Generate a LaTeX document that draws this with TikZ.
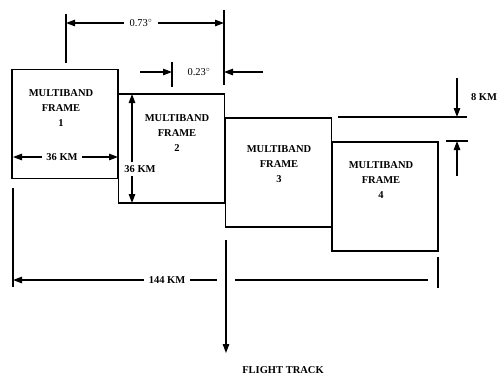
\documentclass[tikz,border=0pt]{standalone}
\usepackage{fontspec}
\setmainfont{Liberation Serif}
\usetikzlibrary{arrows.meta}
\begin{document}
\begin{tikzpicture}[x=1pt,y=-1pt,
  line width=1.2pt,
  frame/.style={draw, minimum width=106pt, minimum height=109pt, inner sep=0pt},
  ftext/.style={align=center, font=\bfseries\fontsize{10.5}{15}\selectfont, inner sep=0pt},
  dimlabel/.style={font=\bfseries\fontsize{10.5}{12}\selectfont, inner sep=4pt},
  anglabel/.style={font=\fontsize{10.5}{12}\selectfont, inner sep=5pt},
  dimarrow/.style={-{Triangle[length=9pt,width=6.5pt]}},
  extline/.style={line width=1.2pt}]
\useasboundingbox (0,0) rectangle (499,376);
% frames
\node[frame] (f1) at (65,124) {};
\node[frame] (f2) at (171.5,148.5) {};
\node[frame] (f3) at (278.5,172.5) {};
\node[frame] (f4) at (385,196.5) {};
\node[ftext] (t1) at (61,108) {MULTIBAND\\FRAME\\1};
\node[ftext] (t2) at (177,133) {MULTIBAND\\FRAME\\2};
\node[ftext] (t3) at (279,164) {MULTIBAND\\FRAME\\3};
\node[ftext] (t4) at (381,180) {MULTIBAND\\FRAME\\4};
% 0.73 deg
\coordinate (e1a) at (66,14); \coordinate (e1b) at (66,63);
\coordinate (e2a) at (224,10); \coordinate (e2b) at (224,85);
\draw[extline] (e1a) -- (e1b);
\draw[extline] (e2a) -- (e2b);
\node[anglabel] (a73) at (141,23) {0.73$^{\circ}$};
\coordinate (a73l) at (66,23); \coordinate (a73r) at (224,23);
\draw[dimarrow] (a73) -- (a73l);
\draw[dimarrow] (a73) -- (a73r);
% 0.23 deg
\coordinate (tk1) at (172,62); \coordinate (tk2) at (172,87);
\draw[extline] (tk1) -- (tk2);
\node[anglabel, inner sep=2pt] (a23) at (199,72) {0.23$^{\circ}$};
\coordinate (a23la) at (140,72); \coordinate (a23lb) at (172,72);
\coordinate (a23ra) at (263,72); \coordinate (a23rb) at (224,72);
\draw[dimarrow] (a23la) -- (a23lb);
\draw[dimarrow] (a23ra) -- (a23rb);
% 36 KM horizontal
\node[dimlabel] (h36) at (62,157) {36 KM};
\coordinate (h36l) at (13,157); \coordinate (h36r) at (118,157);
\draw[dimarrow] (h36) -- (h36l);
\draw[dimarrow] (h36) -- (h36r);
% 36 KM vertical
\node[dimlabel, inner sep=3pt] (v36) at (140,169) {36 KM};
\coordinate (v36t) at (132,94); \coordinate (v36b) at (132,203);
\draw[dimarrow] (v36t |- v36.north) -- (v36t);
\draw[dimarrow] (v36b |- v36.south) -- (v36b);
% 8 KM
\coordinate (k8a) at (338,117); \coordinate (k8b) at (467,117);
\coordinate (k8c) at (446,141); \coordinate (k8d) at (468,141);
\draw[extline] (k8a) -- (k8b);
\draw[extline] (k8c) -- (k8d);
\coordinate (k8s1) at (457,78); \coordinate (k8e1) at (457,117);
\coordinate (k8s2) at (457,176); \coordinate (k8e2) at (457,141);
\draw[dimarrow] (k8s1) -- (k8e1);
\draw[dimarrow] (k8s2) -- (k8e2);
\node[dimlabel, inner sep=0pt] (k8) at (484,97) {8 KM};
% 144 KM
\coordinate (l1a) at (13,188); \coordinate (l1b) at (13,287);
\coordinate (r1a) at (438,257); \coordinate (r1b) at (438,288);
\draw[extline] (l1a) -- (l1b);
\draw[extline] (r1a) -- (r1b);
\node[dimlabel] (k144) at (167,280) {144 KM};
\coordinate (k144l) at (13,280);
\coordinate (k144d) at (217,280);
\coordinate (k144g) at (235,280); \coordinate (k144r) at (428,280);
\draw[dimarrow] (k144) -- (k144l);
\draw (k144) -- (k144d);
\draw (k144g) -- (k144r);
% flight track
\coordinate (ft1) at (226,240); \coordinate (ft2) at (226,353);
\draw[dimarrow] (ft1) -- (ft2);
\node[dimlabel, inner sep=0pt] (ftl) at (283,370) {FLIGHT TRACK};
\end{tikzpicture}
\end{document}
